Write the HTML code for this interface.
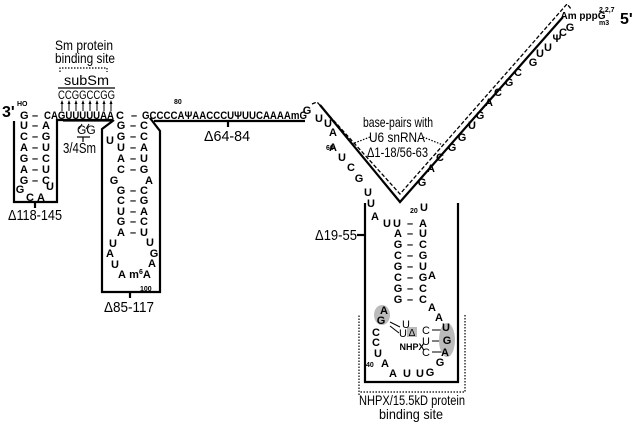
<!DOCTYPE html>
<html><head><meta charset="utf-8"><style>
html,body{margin:0;padding:0;background:#fff}
svg{display:block}
.n{font:bold 11px "Liberation Sans",sans-serif;fill:#000}
.l{font:15px "Liberation Sans",sans-serif;fill:#000}
.s{font:bold 7px "Liberation Sans",sans-serif;fill:#000}
</style></head><body>
<svg width="640" height="423" viewBox="0 0 640 423" xmlns="http://www.w3.org/2000/svg">
<g fill="none" stroke="#000" stroke-width="2.2">
<polyline points="14,121 14,202 57,202 57,120 113,120"/>
<line x1="35" y1="202" x2="35" y2="208"/>
<polyline points="114,120 102,129 102,292 160,292 160,131 150,118"/>
<line x1="130" y1="292" x2="130" y2="298"/>
<line x1="154" y1="121" x2="305" y2="121"/>
<line x1="228" y1="121" x2="228" y2="127"/>
<polyline points="320,105 400,202 563,17"/>
<polyline points="365,203 365,382 458,382 458,203"/>
<line x1="357" y1="235" x2="365" y2="235"/>
</g>
<g fill="none" stroke="#000" stroke-width="1.2">
<line x1="58" y1="88" x2="115" y2="88"/>
<line x1="63" y1="121" x2="113" y2="121"/>
<line x1="77" y1="137" x2="90" y2="137"/>
<line x1="83" y1="137" x2="83" y2="142"/>
</g>
<g fill="none" stroke="#000" stroke-width="1.3" stroke-dasharray="4,2">
<polyline points="312,104 317,102 400,194 567,4 572,10"/>
</g>
<g fill="none" stroke="#000" stroke-width="1.2" stroke-dasharray="1.5,1.5">
<polyline points="60,72 60,68 107,68 107,72"/>
<line x1="370" y1="137" x2="352" y2="144"/>
<line x1="423" y1="137" x2="443" y2="145"/>
<polyline points="359,395 359,315"/><polyline points="465,315 465,392 359,392"/>
</g>
<g stroke="#000" stroke-width="1">
<line x1="62" y1="111" x2="62" y2="103"/><line x1="69" y1="111" x2="69" y2="103"/>
<line x1="76" y1="111" x2="76" y2="103"/><line x1="83" y1="111" x2="83" y2="103"/>
<line x1="90" y1="111" x2="90" y2="103"/><line x1="97" y1="111" x2="97" y2="103"/>
<line x1="104" y1="111" x2="104" y2="103"/><line x1="111" y1="111" x2="111" y2="103"/>
<line x1="82" y1="124" x2="79" y2="129"/><line x1="89" y1="124" x2="86" y2="129"/>
<line x1="390" y1="322" x2="400" y2="327"/><line x1="390" y1="326" x2="399" y2="333"/>
<line x1="442" y1="330" x2="432" y2="330"/><line x1="442" y1="341" x2="432" y2="341"/><line x1="442" y1="352" x2="432" y2="352"/>
</g>
<g fill="#000">
<path d="M60.5,104 L62,100 L63.5,104Z M67.5,104 L69,100 L70.5,104Z M74.5,104 L76,100 L77.5,104Z M81.5,104 L83,100 L84.5,104Z M88.5,104 L90,100 L91.5,104Z M95.5,104 L97,100 L98.5,104Z M102.5,104 L104,100 L105.5,104Z M109.5,104 L111,100 L112.5,104Z"/>
</g>
<ellipse cx="382" cy="315" rx="8" ry="10" fill="#bbb"/>
<ellipse cx="447" cy="340" rx="8" ry="17" fill="#bbb"/>
<rect x="407" y="327" width="10" height="10" fill="#bbb"/>
<g class="l">
<text x="2" y="117" font-weight="bold" font-size="16">3'</text>
<text x="55" y="50" font-size="14" textLength="58" lengthAdjust="spacingAndGlyphs">Sm protein</text>
<text x="55" y="63" font-size="14" textLength="60" lengthAdjust="spacingAndGlyphs">binding site</text>
<text x="64" y="85" font-size="14" textLength="45" lengthAdjust="spacingAndGlyphs">subSm</text>
<text x="58" y="99" font-size="12" textLength="57" lengthAdjust="spacingAndGlyphs">CCGGCCGG</text>
<text x="77" y="134" font-size="12">GG</text>
<text x="63" y="153" font-size="15" textLength="33" lengthAdjust="spacingAndGlyphs">3/4Sm</text>
<text x="8" y="220" textLength="54" lengthAdjust="spacingAndGlyphs">Δ118-145</text>
<text x="104" y="312" textLength="50" lengthAdjust="spacingAndGlyphs">Δ85-117</text>
<text x="204" y="141" textLength="46" lengthAdjust="spacingAndGlyphs">Δ64-84</text>
<text x="315" y="240" textLength="42" lengthAdjust="spacingAndGlyphs">Δ19-55</text>
<text x="363" y="127" font-size="14" textLength="70" lengthAdjust="spacingAndGlyphs">base-pairs with</text>
<text x="369" y="142" font-size="14" textLength="56" lengthAdjust="spacingAndGlyphs">U6 snRNA</text>
<text x="367" y="157" font-size="14" textLength="61" lengthAdjust="spacingAndGlyphs">Δ1-18/56-63</text>
<text x="359" y="405" font-size="14" textLength="106" lengthAdjust="spacingAndGlyphs">NHPX/15.5kD protein</text>
<text x="379" y="419" font-size="14" textLength="64" lengthAdjust="spacingAndGlyphs">binding site</text>
<text x="620" y="24" font-weight="bold" font-size="16">5'</text>
</g>
<g class="s"><text x="17" y="106">HO</text><text x="174" y="104">80</text><text x="140" y="291">100</text>
<text x="326" y="150">60</text><text x="410" y="213">20</text><text x="366" y="367">40</text>
<text x="599" y="12">2,2,7</text><text x="599" y="25">m3</text></g>
<g class="n">
<text x="20" y="119">G</text><text x="32" y="119">–</text><text x="44" y="119" textLength="70" lengthAdjust="spacingAndGlyphs">CAGUUUUUAA</text>
<text x="116" y="119">C</text><text x="131" y="119">–</text>
<text x="142" y="119" textLength="165" lengthAdjust="spacingAndGlyphs">GCCCCAΨAACCCUΨUUCAAAAmG</text>
</g>
<g class="n" text-anchor="middle">
<text x="24" y="129">U</text><text x="35" y="129">–</text><text x="46" y="129">A</text>
<text x="24" y="140">C</text><text x="35" y="140">–</text><text x="46" y="140">G</text>
<text x="24" y="151">A</text><text x="35" y="151">–</text><text x="46" y="151">U</text>
<text x="24" y="162">G</text><text x="35" y="162">–</text><text x="46" y="162">C</text>
<text x="24" y="173">A</text><text x="35" y="173">–</text><text x="46" y="173">U</text>
<text x="24" y="184">G</text><text x="35" y="184">–</text><text x="46" y="184">C</text>
<text x="20" y="193">G</text><text x="50" y="190">U</text><text x="30" y="201">C</text><text x="41" y="201">A</text>
<text x="121" y="129">G</text><text x="133" y="129">–</text><text x="144" y="129">C</text>
<text x="110" y="144">U</text><text x="121" y="140">G</text><text x="133" y="140">–</text><text x="144" y="140">C</text>
<text x="121" y="151">U</text><text x="133" y="151">–</text><text x="144" y="151">A</text>
<text x="121" y="162">A</text><text x="133" y="162">–</text><text x="144" y="162">U</text>
<text x="121" y="173">C</text><text x="133" y="173">–</text><text x="144" y="173">G</text>
<text x="114" y="184">G</text><text x="149" y="184">A</text>
<text x="121" y="194">G</text><text x="133" y="194">–</text><text x="144" y="194">C</text>
<text x="121" y="204">C</text><text x="133" y="204">–</text><text x="144" y="204">G</text>
<text x="121" y="215">U</text><text x="133" y="215">–</text><text x="144" y="215">A</text>
<text x="121" y="225">G</text><text x="133" y="225">–</text><text x="144" y="225">C</text>
<text x="121" y="236">A</text><text x="133" y="236">–</text><text x="144" y="236">U</text>
<text x="113" y="247">U</text><text x="110" y="257">A</text><text x="115" y="268">U</text><text x="122" y="278">A</text>
<text x="150" y="246">U</text><text x="154" y="257">G</text><text x="152" y="267">A</text>
<text x="140" y="278">m<tspan font-size="7" dy="-4">6</tspan><tspan dy="4">A</tspan></text>
<text x="307" y="114">G</text><text x="319" y="122">U</text><text x="328" y="127">U</text><text x="333" y="136">A</text>
<text x="333" y="151">A</text><text x="342" y="161">U</text><text x="351" y="171">C</text><text x="359" y="182">G</text><text x="368" y="196">U</text>
<text x="422" y="186">G</text><text x="431" y="172">A</text><text x="440" y="161">C</text><text x="452" y="151">G</text>
<text x="462" y="141">G</text><text x="472" y="129">U</text><text x="480" y="119">G</text><text x="489" y="106">A</text>
<text x="498" y="96">C</text><text x="509" y="86">G</text><text x="518" y="76">C</text><text x="533" y="66">G</text>
<text x="540" y="57">U</text><text x="548" y="51">U</text><text x="557" y="42">Ψ</text><text x="563" y="36">C</text><text x="570" y="31">G</text>
<text x="583" y="19" font-size="10" text-anchor="middle">Am pppG</text>
<text x="371" y="207">U</text><text x="375" y="220">A</text><text x="387" y="227">U</text>
<text x="397" y="227">U</text><text x="410" y="227">–</text><text x="423" y="227">A</text><text x="424" y="211">U</text>
<text x="398" y="237">A</text><text x="410" y="237">–</text><text x="423" y="237">U</text>
<text x="398" y="248">G</text><text x="410" y="248">–</text><text x="423" y="248">C</text>
<text x="398" y="259">C</text><text x="410" y="259">–</text><text x="423" y="259">G</text>
<text x="398" y="270">G</text><text x="410" y="270">–</text><text x="423" y="270">U</text>
<text x="432" y="279">A</text>
<text x="398" y="281">C</text><text x="410" y="281">–</text><text x="423" y="281">G</text>
<text x="398" y="292">G</text><text x="410" y="292">–</text><text x="423" y="292">C</text>
<text x="398" y="303">G</text><text x="410" y="303">–</text><text x="423" y="303">C</text>
<text x="384" y="314">A</text><text x="381" y="324">G</text>
<text x="432" y="311">A</text><text x="439" y="321">A</text><text x="446" y="331">U</text><text x="447" y="344">G</text>
<text x="445" y="356">A</text><text x="440" y="366">G</text><text x="430" y="376">G</text><text x="420" y="377">U</text>
<text x="407" y="377">U</text><text x="393" y="377">A</text><text x="385" y="367">A</text><text x="378" y="357">U</text>
<text x="376" y="346">C</text><text x="376" y="336">C</text>
</g>
<g font-family="Liberation Sans,sans-serif" font-size="11" text-anchor="middle">
<text x="406" y="328">U</text><text x="403" y="337">U</text>
<text x="426" y="334">C</text><text x="426" y="345">U</text><text x="426" y="356">C</text>
<text x="412" y="336" font-size="10">Δ</text><text x="412" y="350" font-size="9" font-weight="bold">NHPX</text>
</g>
</svg>
</body></html>
